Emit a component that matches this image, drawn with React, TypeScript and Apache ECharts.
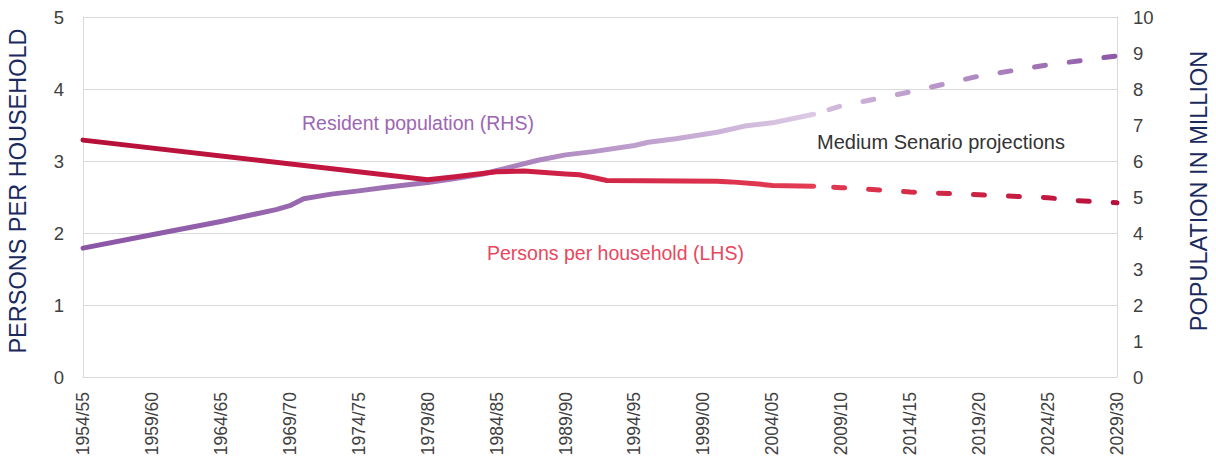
import React, { useEffect, useRef } from "react";
import * as echarts from "echarts";

const categories: string[] = [
  "1954/55","1955/56","1956/57","1957/58","1958/59","1959/60","1960/61","1961/62","1962/63","1963/64",
  "1964/65","1965/66","1966/67","1967/68","1968/69","1969/70","1970/71","1971/72","1972/73","1973/74",
  "1974/75","1975/76","1976/77","1977/78","1978/79","1979/80","1980/81","1981/82","1982/83","1983/84",
  "1984/85","1985/86","1986/87","1987/88","1988/89","1989/90","1990/91","1991/92","1992/93","1993/94",
  "1994/95","1995/96","1996/97","1997/98","1998/99","1999/00","2000/01","2001/02","2002/03","2003/04",
  "2004/05","2005/06","2006/07","2007/08","2008/09","2009/10","2010/11","2011/12","2012/13","2013/14",
  "2014/15","2015/16","2016/17","2017/18","2018/19","2019/20","2020/21","2021/22","2022/23","2023/24",
  "2024/25","2025/26","2026/27","2027/28","2028/29","2029/30",
];

// Persons per household (LHS) - historical
const householdHist: [string, number][] = [
  ["1954/55", 3.29], ["1979/80", 2.74], ["1981/82", 2.78], ["1984/85", 2.85], ["1986/87", 2.86],
  ["1989/90", 2.82], ["1990/91", 2.81], ["1991/92", 2.77], ["1992/93", 2.73], ["2000/01", 2.72],
  ["2001/02", 2.71], ["2003/04", 2.68], ["2004/05", 2.66], ["2007/08", 2.65],
];
// Persons per household (LHS) - medium scenario projection
const householdProj: [string, number][] = [
  ["2007/08", 2.65], ["2009/10", 2.63], ["2014/15", 2.57], ["2019/20", 2.53],
  ["2024/25", 2.49], ["2026/27", 2.45], ["2029/30", 2.42],
];
// Resident population in million (RHS) - historical
const populationHist: [string, number][] = [
  ["1954/55", 3.58], ["1959/60", 3.95], ["1964/65", 4.32], ["1968/69", 4.65], ["1969/70", 4.76],
  ["1970/71", 4.95], ["1972/73", 5.08], ["1974/75", 5.17], ["1976/77", 5.27], ["1979/80", 5.40],
  ["1981/82", 5.51], ["1983/84", 5.64], ["1985/86", 5.83], ["1987/88", 6.02], ["1989/90", 6.17],
  ["1991/92", 6.26], ["1994/95", 6.43], ["1995/96", 6.52], ["1997/98", 6.62], ["2000/01", 6.80],
  ["2002/03", 6.97], ["2004/05", 7.06], ["2007/08", 7.30],
];
// Resident population in million (RHS) - medium scenario projection
const populationProj: [string, number][] = [
  ["2007/08", 7.30], ["2009/10", 7.53], ["2014/15", 7.92], ["2019/20", 8.36],
  ["2024/25", 8.67], ["2029/30", 8.92],
];

const FONT = "'Liberation Sans', Arial, Helvetica, sans-serif";

const grad = (stops: [number, string][]) =>
  new echarts.graphic.LinearGradient(
    0, 0, 1, 0,
    stops.map(([offset, color]) => ({ offset, color }))
  );

export default function App() {
  const ref = useRef<HTMLDivElement>(null);

  useEffect(() => {
    if (!ref.current) return;
    const chart = echarts.init(ref.current, undefined, { renderer: "svg" });
    const option: any = {
      animation: false,
      backgroundColor: "#ffffff",
      grid: { left: 83, right: 99, top: 17, bottom: 88, containLabel: false },
      xAxis: {
        type: "category",
        data: categories,
        boundaryGap: false,
        axisLine: { show: true, lineStyle: { color: "#d9d9d9", width: 1 } },
        axisTick: { show: false },
        axisLabel: {
          interval: 4,
          rotate: 90,
          margin: 15,
          color: "#404040",
          fontSize: 17.5,
          fontFamily: FONT,
        },
        splitLine: { show: false },
      },
      yAxis: [
        {
          type: "value",
          min: 0,
          max: 5,
          interval: 1,
          position: "left",
          axisLine: { show: true, lineStyle: { color: "#d9d9d9", width: 1 } },
          axisTick: { show: false },
          axisLabel: { margin: 19, color: "#404040", fontSize: 18.5, fontFamily: FONT },
          splitLine: { show: true, lineStyle: { color: "#d9d9d9", width: 1 } },
        },
        {
          type: "value",
          min: 0,
          max: 10,
          interval: 1,
          position: "right",
          axisLine: { show: true, lineStyle: { color: "#d9d9d9", width: 1 } },
          axisTick: { show: false },
          axisLabel: { margin: 16, color: "#404040", fontSize: 18.5, fontFamily: FONT },
          splitLine: { show: false },
        },
      ],
      series: [
        {
          name: "Persons per household (LHS)",
          type: "line",
          yAxisIndex: 0,
          data: householdHist,
          symbol: "none",
          lineStyle: {
            width: 5,
            color: grad([[0, "#b5103a"], [0.55, "#c81a42"], [1, "#e43c53"]]),
            cap: "round",
            join: "round",
          },
          z: 3,
        },
        {
          name: "Persons per household projection",
          type: "line",
          yAxisIndex: 0,
          data: householdProj,
          symbol: "none",
          lineStyle: {
            width: 5,
            type: [11, 24],
            dashOffset: 14.5,
            cap: "round",
            color: grad([[0, "#e23a50"], [1, "#b70f3a"]]),
          },
          z: 3,
        },
        {
          name: "Resident population (RHS)",
          type: "line",
          yAxisIndex: 1,
          data: populationHist,
          symbol: "none",
          lineStyle: {
            width: 5,
            color: grad([[0, "#8a55a5"], [0.55, "#a57ab9"], [1, "#dccae5"]]),
            cap: "round",
            join: "round",
          },
          z: 2,
        },
        {
          name: "Resident population projection",
          type: "line",
          yAxisIndex: 1,
          data: populationProj,
          symbol: "none",
          lineStyle: {
            width: 5,
            type: [11, 24],
            dashOffset: 18.5,
            cap: "round",
            color: grad([[0, "#d6bfdf"], [1, "#8d58a7"]]),
          },
          z: 2,
        },
      ],
      graphic: [
        {
          type: "text",
          x: 18,
          y: 191,
          rotation: Math.PI / 2,
          style: {
            text: "PERSONS PER HOUSEHOLD",
            fill: "#1b2a5e",
            font: `23.5px ${FONT}`,
            textAlign: "center",
            textVerticalAlign: "middle",
            align: "center",
            verticalAlign: "middle",
          },
        },
        {
          type: "text",
          x: 1199,
          y: 191,
          rotation: Math.PI / 2,
          style: {
            text: "POPULATION IN MILLION",
            fill: "#1b2a5e",
            font: `23.5px ${FONT}`,
            textAlign: "center",
            textVerticalAlign: "middle",
            align: "center",
            verticalAlign: "middle",
          },
        },
        {
          type: "text",
          x: 302,
          y: 123,
          style: {
            text: "Resident population (RHS)",
            fill: "#9d66b4",
            font: `19.5px ${FONT}`,
            textAlign: "left",
            textVerticalAlign: "middle",
            align: "left",
            verticalAlign: "middle",
          },
        },
        {
          type: "text",
          x: 487,
          y: 253,
          style: {
            text: "Persons per household (LHS)",
            fill: "#e8475e",
            font: `19.5px ${FONT}`,
            textAlign: "left",
            textVerticalAlign: "middle",
            align: "left",
            verticalAlign: "middle",
          },
        },
        {
          type: "text",
          x: 817,
          y: 142,
          style: {
            text: "Medium Senario projections",
            fill: "#333333",
            font: `20px ${FONT}`,
            textAlign: "left",
            textVerticalAlign: "middle",
            align: "left",
            verticalAlign: "middle",
          },
        },
      ],
    };
    chart.setOption(option);
    return () => chart.dispose();
  }, []);

  return (
    <div
      ref={ref}
      style={{ position: "absolute", left: 0, top: 0, width: 1216, height: 465, background: "#fff" }}
    />
  );
}
